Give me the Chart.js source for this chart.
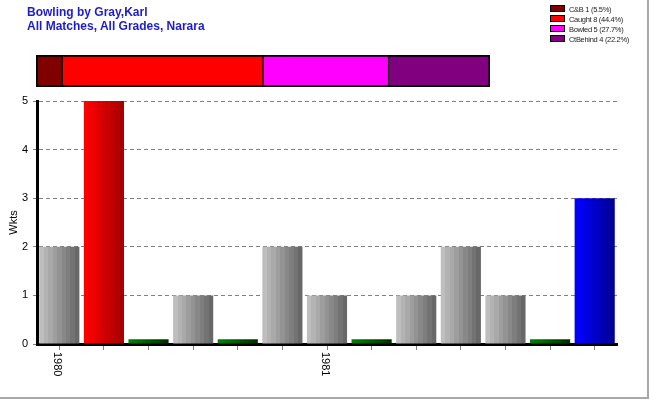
<!DOCTYPE html>
<html>
<head>
<meta charset="utf-8">
<script src="https://cdn.jsdelivr.net/npm/chart.js@4.4.1/dist/chart.umd.min.js"></script>
<style>
  body { margin: 0; background: #fff; font-family: "Liberation Sans", Arial, sans-serif; }
  #frame { position: absolute; left: 0; top: 0; width: 647px; height: 397px; border-right: 2px solid #a8a8a8; border-bottom: 2px solid #a8a8a8; }
  #mainChart { position: absolute; left: 0; top: 0; }
  .title { position: absolute; left: 27px; font-weight: bold; font-size: 12px; color: #1c1ccc; white-space: nowrap; }
  #stackWrap { position: absolute; left: 36px; top: 55px; width: 452px; height: 30px; border: 1px solid #000; }
  #legend { position: absolute; left: 550px; top: 5px; }
  .item { position: relative; height: 10px; font-size: 7.5px; letter-spacing: -0.3px; line-height: 10px; color: #222; white-space: nowrap; }
  .box { display: inline-block; width: 13px; height: 5px; border: 1px solid #000; margin-right: 4px; vertical-align: 0px; }
</style>
</head>
<body>
<div id="frame"></div>
<canvas id="mainChart" width="650" height="400"></canvas>
<div class="title" style="top:5px">Bowling by Gray,Karl</div>
<div class="title" style="top:19px">All Matches, All Grades, Narara</div>
<div id="stackWrap"><canvas id="stackChart" width="452" height="30"></canvas></div>
<div id="legend"></div>
<script>
// wickets per innings (0.1 = the small stub drawn for no wickets)
const matchLabels = ["1980", "", "", "", "", "", "1981", "", "", "", "", "", ""];
const wickets = [2, 5, 0.1, 1, 0.1, 2, 1, 0.1, 1, 2, 1, 0.1, 3];
const yTicks = [0, 1, 2, 3, 4, 5];

// how the wickets were taken
const dismissals = ["C&B", "Caught", "Bowled", "CtBehind"];
const dismissalCounts = [1, 8, 5, 4];
const dismissalColors = ["#800000", "#ff0000", "#ff00ff", "#800080"];

Chart.defaults.font.family = '"Liberation Sans", Arial, sans-serif';
Chart.defaults.color = "#000";

const total = dismissalCounts.reduce((a, b) => a + b, 0);

// legend
const legend = document.getElementById("legend");
dismissals.forEach((name, i) => {
  const pct = (Math.floor(dismissalCounts[i] / total * 1000) / 10).toFixed(1);
  const row = document.createElement("div");
  row.className = "item";
  row.innerHTML = '<span class="box" style="background:' + dismissalColors[i] + '"></span>' +
    name.replace("&", "&amp;") + " " + dismissalCounts[i] + " (" + pct + "%)";
  legend.appendChild(row);
});

// stacked strip
new Chart(document.getElementById("stackChart"), {
  type: "bar",
  data: {
    labels: [""],
    datasets: dismissals.map((name, i) => ({
      label: name,
      data: [dismissalCounts[i]],
      backgroundColor: dismissalColors[i],
      borderColor: "#000",
      borderWidth: 1,
      borderSkipped: false,
      barPercentage: 1,
      categoryPercentage: 1
    }))
  },
  options: {
    indexAxis: "y",
    responsive: false,
    devicePixelRatio: 1,
    animation: false,
    layout: { padding: 0 },
    scales: {
      x: { stacked: true, display: false, min: 0, max: total },
      y: { stacked: true, display: false }
    },
    plugins: { legend: { display: false }, tooltip: { enabled: false } }
  }
});

// banded left-to-right shading like the original
function shade(from, to) {
  return function (ctx) {
    const chart = ctx.chart;
    if (!chart.chartArea) return from;
    const xs = chart.scales.x;
    const step = xs.getPixelForValue(1) - xs.getPixelForValue(0);
    const cx = xs.getPixelForValue(ctx.dataIndex);
    const w = step * 0.9;
    const g = chart.ctx.createLinearGradient(cx - w / 2, 0, cx + w / 2, 0);
    const n = 9;
    for (let k = 0; k < n; k++) {
      const t = k / (n - 1);
      const c = from.map((v, j) => Math.round(v + (to[j] - v) * t));
      const col = "rgb(" + c.join(",") + ")";
      g.addColorStop(k / n, col);
      g.addColorStop((k + 1) / n - 0.001, col);
    }
    return g;
  };
}
const grayFill = shade([190, 190, 190], [104, 104, 104]);
const redFill = shade([255, 0, 0], [165, 0, 0]);
const greenFill = shade([0, 128, 0], [0, 50, 0]);
const blueFill = shade([0, 0, 255], [0, 0, 150]);
const best = Math.max(...wickets);

const xLabelPlugin = {
  id: "xLabels",
  afterDraw(chart) {
    const ctx = chart.ctx;
    const xs = chart.scales.x;
    ctx.save();
    ctx.font = '11px "Liberation Sans", Arial, sans-serif';
    ctx.fillStyle = "#000";
    ctx.textAlign = "left";
    ctx.textBaseline = "middle";
    matchLabels.forEach((lab, i) => {
      if (!lab) return;
      const x = xs.getPixelForValue(i) - 2;
      ctx.save();
      ctx.translate(x, chart.chartArea.bottom + 8);
      ctx.rotate(Math.PI / 2);
      ctx.fillText(lab, 0, 0);
      ctx.restore();
    });
    ctx.restore();
  }
};

new Chart(document.getElementById("mainChart"), {
  type: "bar",
  data: {
    labels: matchLabels,
    datasets: [{
      data: wickets,
      backgroundColor: (ctx) => {
        const v = wickets[ctx.dataIndex];
        if (ctx.dataIndex === wickets.length - 1) return blueFill(ctx);
        if (v === best) return redFill(ctx);
        if (v < 0.5) return greenFill(ctx);
        return grayFill(ctx);
      },
      borderWidth: 0,
      barPercentage: 0.9,
      categoryPercentage: 1
    }]
  },
  options: {
    responsive: false,
    devicePixelRatio: 1,
    animation: false,
    layout: { padding: { left: 0, right: 33, top: 101, bottom: 48 } },
    scales: {
      x: {
        grid: { display: true, drawOnChartArea: false, offset: false, color: "#808080", tickLength: 6 },
        border: { color: "#000", width: 3 },
        ticks: { display: false },
        afterFit(s) { s.height = 8; }
      },
      y: {
        min: 0,
        max: yTicks[yTicks.length - 1],
        afterBuildTicks(s) { s.ticks = yTicks.map(v => ({ value: v })); },
        grid: { color: "#808080", tickLength: 4 },
        border: { color: "#000", width: 3, dash: [4, 3] },
        ticks: { font: { size: 11 }, padding: 5 },
        title: { display: true, text: "Wkts", font: { size: 11 }, padding: { top: 7, bottom: 0 } },
        afterFit(s) { s.width = 37; s.paddingTop = 0; s.paddingBottom = 0; }
      }
    },
    plugins: { legend: { display: false }, tooltip: { enabled: false } }
  },
  plugins: [xLabelPlugin]
});
</script>
</body>
</html>
